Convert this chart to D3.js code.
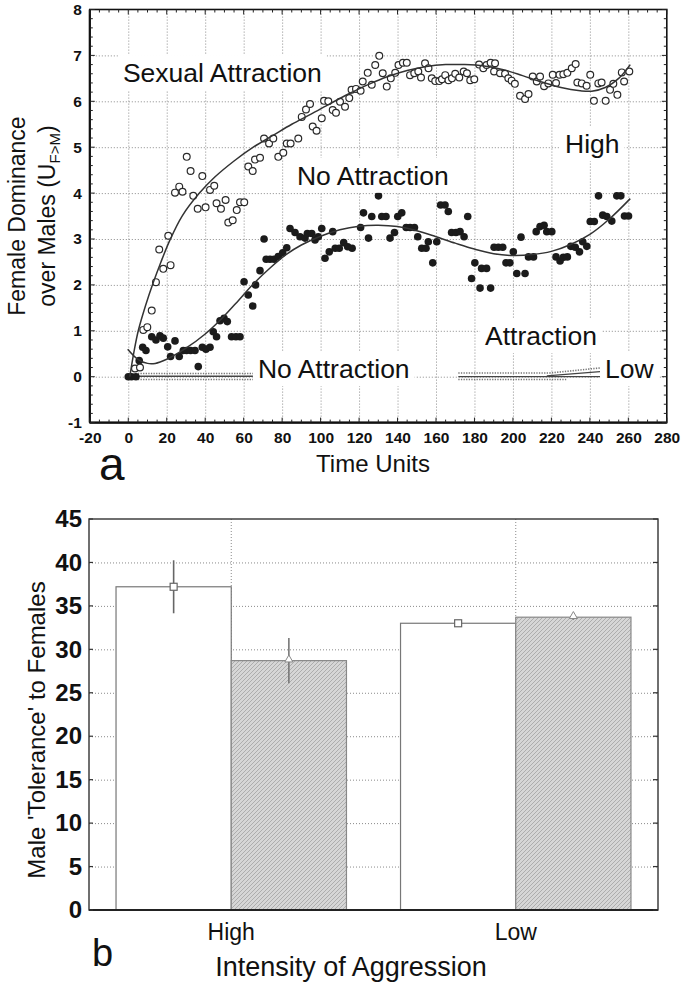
<!DOCTYPE html>
<html><head><meta charset="utf-8">
<script src="https://cdn.jsdelivr.net/npm/d3@7"></script>
<style>
body{margin:0;background:#fff}
svg{display:block}
text{font-family:"Liberation Sans",Arial,Helvetica,sans-serif;fill:#111}
</style>
</head><body>
<svg id="c" width="681" height="986"></svg>
<script>
// ---------------- DATA (panel a) ----------------
const xTicksA = [-20,0,20,40,60,80,100,120,140,160,180,200,220,240,260,280];
const yTicksA = [-1,0,1,2,3,4,5,6,7,8];

// Sexual Attraction, High aggression (open circles) [time, U]
const attractionHigh = [[3.5,0.18],[6.1,0.2],[7.8,1.02],[9.9,1.08],[12.2,1.44],[14.4,2.06],[16.1,2.77],[18.2,2.35],[20.8,3.07],[22,2.43],[24.3,4.01],[26.5,4.14],[28.2,4.03],[30.4,4.79],[32.4,4.48],[33.8,3.94],[36.1,3.66],[38.5,4.37],[40.2,3.69],[42.5,4.07],[44.7,4.16],[45.9,3.78],[48.2,3.66],[50.6,3.85],[52,3.36],[54.3,3.41],[56.4,3.63],[58.1,3.8],[60.3,3.8],[62.4,4.58],[64.7,4.48],[65.9,4.73],[68.5,4.77],[70.6,5.19],[73.2,5.08],[75.4,5.19],[78,4.79],[80.6,4.88],[82.4,5.08],[84.4,5.08],[88.4,5.19],[90.2,5.66],[92.4,5.82],[94.5,5.94],[95.9,5.45],[97.9,5.36],[100.6,5.63],[101.8,6.01],[104,6.0],[106.3,5.81],[108,5.75],[110.1,5.99],[112.7,5.88],[114.9,6.07],[116.1,6.25],[118.4,6.27],[120.8,6.23],[121.9,6.43],[124.5,6.62],[126.6,6.36],[128.4,6.79],[130.5,6.99],[132.3,6.61],[134.4,6.32],[136.5,6.5],[138.8,6.62],[140.5,6.79],[142.8,6.84],[144.8,6.84],[146.5,6.57],[148.7,6.61],[150.8,6.65],[152.2,6.52],[154.3,6.83],[156.1,6.72],[157.8,6.5],[159.6,6.44],[161.7,6.44],[163.1,6.48],[164.8,6.57],[166.5,6.46],[168.3,6.5],[170,6.6],[172.1,6.52],[174.4,6.65],[176.1,6.61],[177.8,6.46],[179.9,6.48],[182.4,6.8],[184.6,6.72],[186.3,6.79],[188.4,6.84],[190.7,6.83],[190.2,6.65],[193.3,6.61],[195.9,6.6],[197.6,6.5],[199.3,6.45],[201,6.38],[203.7,6.12],[206.3,6.05],[208.1,6.16],[210.3,6.54],[212.4,6.43],[214.1,6.54],[216.2,6.33],[218.4,6.39],[220.7,6.58],[222.4,6.4],[224.2,6.58],[226.2,6.59],[228.3,6.62],[230.6,6.72],[232.6,6.81],[233.5,6.41],[235.8,6.39],[238.3,6.34],[240.2,6.58],[242.1,6.01],[244.4,6.39],[246.1,6.41],[248.2,6.01],[250.5,6.25],[252.2,6.38],[254.3,6.14],[256.6,6.63],[257.8,6.43],[260.5,6.65]];

// No Attraction, High aggression (filled circles)
const noAttractionHigh = [[0,0],[1.7,0],[4,0],[5.7,0.35],[7.5,0.64],[9.2,0.57],[12.2,0.87],[14.4,0.8],[16.5,0.89],[18.2,0.84],[20.5,0.65],[22,0.44],[24.3,0.78],[26.5,0.44],[28.6,0.57],[30.3,0.57],[32.4,0.57],[34.7,0.57],[36.4,0.22],[38.5,0.64],[40.4,0.6],[42.5,0.64],[44.2,0.98],[45.9,0.87],[47.7,1.22],[49.8,1.27],[51.5,1.2],[53.7,0.87],[56,0.87],[58.1,0.87],[60.2,2.07],[62.4,1.78],[64.7,1.54],[66.2,2.0],[68.5,2.31],[70.6,3.0],[71.7,2.56],[73.7,2.56],[75.8,2.56],[78,2.62],[80.3,2.7],[82.4,2.81],[84.1,3.23],[86.7,3.14],[89.3,3.05],[91.9,3.02],[93.1,3.12],[95.4,3.12],[97.1,2.98],[98.8,3.05],[100.6,3.23],[102.3,2.58],[104.5,2.72],[106.3,3.16],[107.6,2.8],[109.7,2.8],[112,2.92],[114.1,2.83],[116.4,2.8],[120.8,3.25],[122.3,3.57],[124.9,3.02],[126.6,3.49],[130.1,3.94],[131.8,3.49],[134,3.49],[136.1,3.02],[138.4,3.14],[140.1,3.49],[142.2,3.57],[144.5,3.25],[146.5,3.25],[148.8,3.25],[150.5,3.05],[152.6,2.8],[154.8,2.8],[156,2.94],[158.3,2.48],[160.4,2.94],[162.4,3.74],[164.7,3.74],[166.4,3.6],[168.1,3.14],[170.4,3.14],[172.5,3.16],[174.6,3.05],[176.5,3.49],[178.5,2.14],[180.2,2.48],[182.9,1.93],[183.7,2.36],[186.3,2.36],[188.4,1.93],[190.2,2.82],[192.4,2.82],[194.7,2.82],[196.4,2.48],[198.4,2.48],[200.2,2.72],[202,2.25],[204.2,3.04],[206.3,2.25],[208.1,2.61],[210.7,2.61],[212.1,3.16],[214.1,3.27],[216.2,3.3],[217.6,3.16],[220.2,3.16],[222.4,2.61],[224.5,2.52],[226.2,2.6],[228.3,2.61],[230.1,2.84],[232.4,2.82],[234.6,2.72],[236.3,2.94],[238.4,2.84],[240.2,3.38],[242.3,3.38],[244.5,3.94],[246.7,3.52],[248.8,3.49],[251.4,3.39],[254,3.94],[256.1,3.94],[258,3.5],[260.1,3.5]];

// fitted curves
const attractionHighFit = [[0.8,0],[3,0.55],[5.2,1],[9,1.55],[13,2.05],[17,2.5],[21.7,2.98],[28,3.5],[37,4.0],[45,4.35],[55,4.7],[65,5.0],[75,5.25],[85,5.5],[95,5.72],[105,5.95],[115,6.17],[125,6.37],[135,6.54],[145,6.67],[155,6.76],[165,6.8],[175,6.8],[185,6.77],[195,6.69],[205,6.56],[215,6.42],[225,6.3],[235,6.23],[241,6.22],[248,6.3],[255,6.5],[261,6.8]];
const noAttractionHighFit = [[-0.3,0.6],[5,0.38],[10,0.29],[14,0.29],[20,0.38],[30,0.62],[40,0.93],[48,1.24],[56,1.6],[65,2.02],[74,2.38],[82,2.66],[90,2.87],[100,3.06],[110,3.2],[120,3.28],[130,3.3],[140,3.27],[150,3.18],[160,3.05],[170,2.91],[180,2.78],[190,2.68],[200,2.64],[210,2.66],[220,2.73],[230,2.88],[240,3.1],[250,3.43],[261,3.88]];

// Low aggression groups (dotted data bands + fitted lines)
const noAttractionLowFit = [[1.8,0.01],[65,0.01]];
const noAttractionLowData = [[[5,0.07],[65,0.07]],[[5,-0.06],[65,-0.06]]];
const attractionLowFit = [[[171.6,0.0],[245.3,0.0]],[[217.6,0.02],[245.3,0.11]]];
const attractionLowData = [[[171.6,0.08],[219,0.08],[245.3,0.19]],[[171.6,-0.06],[228,-0.06]]];

// annotations (text, time, U at baseline-left)
const labelsA = [
  {text:"Sexual Attraction", t:-2.8, v:6.42},
  {text:"No Attraction", t:87.7, v:4.18},
  {text:"High", t:227.1, v:4.87},
  {text:"No Attraction", t:67.4, v:-0.03},
  {text:"Attraction", t:185.5, v:0.69},
  {text:"Low", t:247.9, v:-0.03}
];

// ---------------- DATA (panel b) ----------------
const groupsB = ["High","Low"];
const attractionMean = [37.2, 33.0];
const attractionErr = [3.05, 0.2];
const noAttractionMean = [28.7, 33.7];
const noAttractionErr = [2.6, 0.3];
const yTicksB = [0,5,10,15,20,25,30,35,40,45];

// ---------------- DRAW ----------------
const svg = d3.select("#c");
const defs = svg.append("defs");
const pat = defs.append("pattern").attr("id","hatch").attr("patternUnits","userSpaceOnUse")
  .attr("width",4).attr("height",4);
pat.append("rect").attr("width",4).attr("height",4).attr("fill","#d6d6d6");
pat.append("path").attr("d","M-1,5 L5,-1 M-1,1 L1,-1 M3,5 L5,3").attr("stroke","#a2a2a2").attr("stroke-width",0.8);

const fmt = d => String(d);

// ===== Panel a =====
const xA = d3.scaleLinear().domain([-20,280]).range([89.8,666.8]);
const yA = d3.scaleLinear().domain([-1,8]).range([422.6,9.5]);
const gA = svg.append("g");
const [x0,x1] = xA.range(); const [yb,yt] = yA.range();

// grid
gA.append("g").attr("transform",`translate(0,${yb})`)
  .call(d3.axisBottom(xA).tickValues(xTicksA.slice(1,-1)).tickSize(-(yb-yt)).tickFormat(""))
  .call(g=>{g.select(".domain").remove();g.selectAll("line").attr("stroke","#8a8a8a").attr("stroke-dasharray","1,2");});
gA.append("g").attr("transform",`translate(${x0},0)`)
  .call(d3.axisLeft(yA).tickValues(yTicksA.slice(1,-1)).tickSize(-(x1-x0)).tickFormat(""))
  .call(g=>{g.select(".domain").remove();g.selectAll("line").attr("stroke","#8a8a8a").attr("stroke-dasharray","1,2");});

const line = d3.line().x(d=>xA(d[0])).y(d=>yA(d[1]));
const curve = d3.line().x(d=>xA(d[0])).y(d=>yA(d[1])).curve(d3.curveCatmullRom);

// low bands
[...noAttractionLowData, ...attractionLowData].forEach(seg=>{
  gA.append("path").attr("d",line(seg)).attr("fill","none").attr("stroke","#777").attr("stroke-width",1.6).attr("stroke-dasharray","1.3,1.3");
});
gA.append("path").attr("d",line(noAttractionLowFit)).attr("fill","none").attr("stroke","#444").attr("stroke-width",1.4);
attractionLowFit.forEach(seg=>gA.append("path").attr("d",line(seg)).attr("fill","none").attr("stroke","#444").attr("stroke-width",1.3));

// points
gA.append("g").selectAll("circle").data(noAttractionHigh).join("circle")
  .attr("cx",d=>xA(d[0])).attr("cy",d=>yA(d[1])).attr("r",3.8).attr("fill","#1b1b1b");
gA.append("g").selectAll("circle").data(attractionHigh).join("circle")
  .attr("cx",d=>xA(d[0])).attr("cy",d=>yA(d[1])).attr("r",3.4).attr("fill","#fff").attr("stroke","#2a2a2a").attr("stroke-width",1.2);

// fit curves
[attractionHighFit, noAttractionHighFit].forEach(f=>
  gA.append("path").attr("d",curve(f)).attr("fill","none").attr("stroke","#333").attr("stroke-width",1.5));

// annotations with white background
labelsA.forEach(l=>{
  const g = gA.append("g");
  const t = g.append("text").attr("x",xA(l.t)).attr("y",yA(l.v)).attr("font-size",26.5).text(l.text);
  const b = t.node().getBBox();
  g.insert("rect","text").attr("x",b.x-5).attr("y",b.y-3).attr("width",b.width+10).attr("height",b.height+5).attr("fill","#fff");
});

// frame + ticks
gA.append("rect").attr("x",x0).attr("y",yt).attr("width",x1-x0).attr("height",yb-yt)
  .attr("fill","none").attr("stroke","#111").attr("stroke-width",1.6);
gA.append("line").attr("x1",x0).attr("x2",x1).attr("y1",yb).attr("y2",yb).attr("stroke","#111").attr("stroke-width",2.2);
gA.append("line").attr("x1",x0).attr("x2",x0).attr("y1",yt).attr("y2",yb).attr("stroke","#111").attr("stroke-width",2.2);
const minorX = d3.range(-20,281,5), minorY = d3.range(-1,8.001,0.2);
const tk = gA.append("g").attr("stroke","#222").attr("stroke-width",1);
minorX.forEach(v=>{const L = v%20===0?5:3;
  tk.append("line").attr("x1",xA(v)).attr("x2",xA(v)).attr("y1",yb).attr("y2",yb-L);
  tk.append("line").attr("x1",xA(v)).attr("x2",xA(v)).attr("y1",yt).attr("y2",yt+L);});
minorY.forEach(v=>{const L = Math.abs(v-Math.round(v))<1e-6?5:3;
  tk.append("line").attr("x1",x0).attr("x2",x0+L).attr("y1",yA(v)).attr("y2",yA(v));
  tk.append("line").attr("x1",x1).attr("x2",x1-L).attr("y1",yA(v)).attr("y2",yA(v));});

// tick labels
gA.append("g").attr("transform",`translate(0,${yb})`)
  .call(d3.axisBottom(xA).tickValues(xTicksA).tickFormat(fmt).tickSize(0).tickPadding(9))
  .call(g=>{g.select(".domain").remove();g.selectAll("text").attr("font-size",15.5).attr("font-weight","bold").attr("fill","#111")
    .attr("font-family","Liberation Sans, Arial, sans-serif");});
gA.append("g").attr("transform",`translate(${x0},0)`)
  .call(d3.axisLeft(yA).tickValues(yTicksA).tickFormat(fmt).tickSize(0).tickPadding(8))
  .call(g=>{g.select(".domain").remove();g.selectAll("text").attr("font-size",15.5).attr("font-weight","bold").attr("fill","#111")
    .attr("font-family","Liberation Sans, Arial, sans-serif");});

// titles
const yMidA = (yt+yb)/2;
svg.append("text").attr("transform",`translate(25,${yMidA}) rotate(-90)`).attr("text-anchor","middle")
  .attr("font-size",23).text("Female Dominance");
const t2 = svg.append("text").attr("transform",`translate(55,${yMidA}) rotate(-90)`).attr("text-anchor","middle").attr("font-size",23);
t2.append("tspan").text("over Males (U");
t2.append("tspan").attr("font-size",15).attr("dy",5).text("F>M");
t2.append("tspan").attr("dy",-5).text(")");
svg.append("text").attr("x",373).attr("y",472).attr("text-anchor","middle").attr("font-size",24).text("Time Units");
svg.append("text").attr("x",99).attr("y",480).attr("font-size",46).text("a");

// ===== Panel b =====
const yB = d3.scaleLinear().domain([0,45]).range([910,519]);
const xB = d3.scaleBand().domain(groupsB).range([89,658]);
const gB = svg.append("g");
const [bx0,bx1] = xB.range(); const [byb,byt] = yB.range();
const cx = g => xB(g)+xB.bandwidth()/2;
const barW = xB.bandwidth()*0.405;

gB.append("g").attr("transform",`translate(${bx0},0)`)
  .call(d3.axisLeft(yB).tickValues(yTicksB.slice(1,-1)).tickSize(-(bx1-bx0)).tickFormat(""))
  .call(g=>{g.select(".domain").remove();g.selectAll("line").attr("stroke","#8a8a8a").attr("stroke-dasharray","1,2");});
groupsB.forEach(g=>gB.append("line").attr("x1",cx(g)).attr("x2",cx(g)).attr("y1",byt).attr("y2",byb)
  .attr("stroke","#8a8a8a").attr("stroke-dasharray","1,2"));

// bars
gB.append("g").selectAll("rect").data(groupsB).join("rect")
  .attr("x",g=>cx(g)-barW).attr("width",barW)
  .attr("y",(g,i)=>yB(attractionMean[i])).attr("height",(g,i)=>byb-yB(attractionMean[i]))
  .attr("fill","#fff").attr("stroke","#777").attr("stroke-width",1.2);
gB.append("g").selectAll("rect").data(groupsB).join("rect")
  .attr("x",g=>cx(g)).attr("width",barW)
  .attr("y",(g,i)=>yB(noAttractionMean[i])).attr("height",(g,i)=>byb-yB(noAttractionMean[i]))
  .attr("fill","url(#hatch)").attr("stroke","#888").attr("stroke-width",1.2);

// error bars + markers
groupsB.forEach((g,i)=>{
  const ax = cx(g)-barW/2, bx = cx(g)+barW/2;
  gB.append("line").attr("x1",ax).attr("x2",ax).attr("y1",yB(attractionMean[i]-attractionErr[i])).attr("y2",yB(attractionMean[i]+attractionErr[i]))
    .attr("stroke","#666").attr("stroke-width",1.6);
  gB.append("line").attr("x1",bx).attr("x2",bx).attr("y1",yB(noAttractionMean[i]-noAttractionErr[i])).attr("y2",yB(noAttractionMean[i]+noAttractionErr[i]))
    .attr("stroke","#777").attr("stroke-width",1.6);
  gB.append("rect").attr("x",ax-3.5).attr("y",yB(attractionMean[i])-3.5).attr("width",7).attr("height",7)
    .attr("fill","#fff").attr("stroke","#666").attr("stroke-width",1.2);
  gB.append("path").attr("d",d3.symbol(d3.symbolTriangle,28)()).attr("transform",`translate(${bx},${yB(noAttractionMean[i])-1})`)
    .attr("fill","#fff").attr("stroke","#888").attr("stroke-width",1);
});

// frame
gB.append("rect").attr("x",bx0).attr("y",byt).attr("width",bx1-bx0).attr("height",byb-byt)
  .attr("fill","none").attr("stroke","#333").attr("stroke-width",1.4);
gB.append("line").attr("x1",bx0).attr("x2",bx1).attr("y1",byb).attr("y2",byb).attr("stroke","#222").attr("stroke-width",2);
const tkB = gB.append("g").attr("stroke","#333").attr("stroke-width",1.2);
yTicksB.forEach(v=>{
  tkB.append("line").attr("x1",bx1).attr("x2",bx1-5).attr("y1",yB(v)).attr("y2",yB(v));
  tkB.append("line").attr("x1",bx0).attr("x2",bx0+4).attr("y1",yB(v)).attr("y2",yB(v));
});

gB.append("g").attr("transform",`translate(${bx0},0)`)
  .call(d3.axisLeft(yB).tickValues(yTicksB).tickFormat(fmt).tickSize(0).tickPadding(7))
  .call(g=>{g.select(".domain").remove();g.selectAll("text").attr("font-size",24).attr("font-weight","bold").attr("fill","#111")
    .attr("font-family","Liberation Sans, Arial, sans-serif");});
gB.append("g").attr("transform",`translate(0,${byb})`)
  .call(d3.axisBottom(xB).tickSize(0).tickPadding(14))
  .call(g=>{g.select(".domain").remove();g.selectAll("text").attr("font-size",23).attr("fill","#111")
    .attr("font-family","Liberation Sans, Arial, sans-serif");});

svg.append("text").attr("transform",`translate(45,730) rotate(-90)`).attr("text-anchor","middle")
  .attr("font-size",24).text("Male 'Tolerance' to Females");
svg.append("text").attr("x",351).attr("y",976).attr("text-anchor","middle").attr("font-size",27).text("Intensity of Aggression");
svg.append("text").attr("x",92).attr("y",966).attr("font-size",38).text("b");
</script>
</body></html>
